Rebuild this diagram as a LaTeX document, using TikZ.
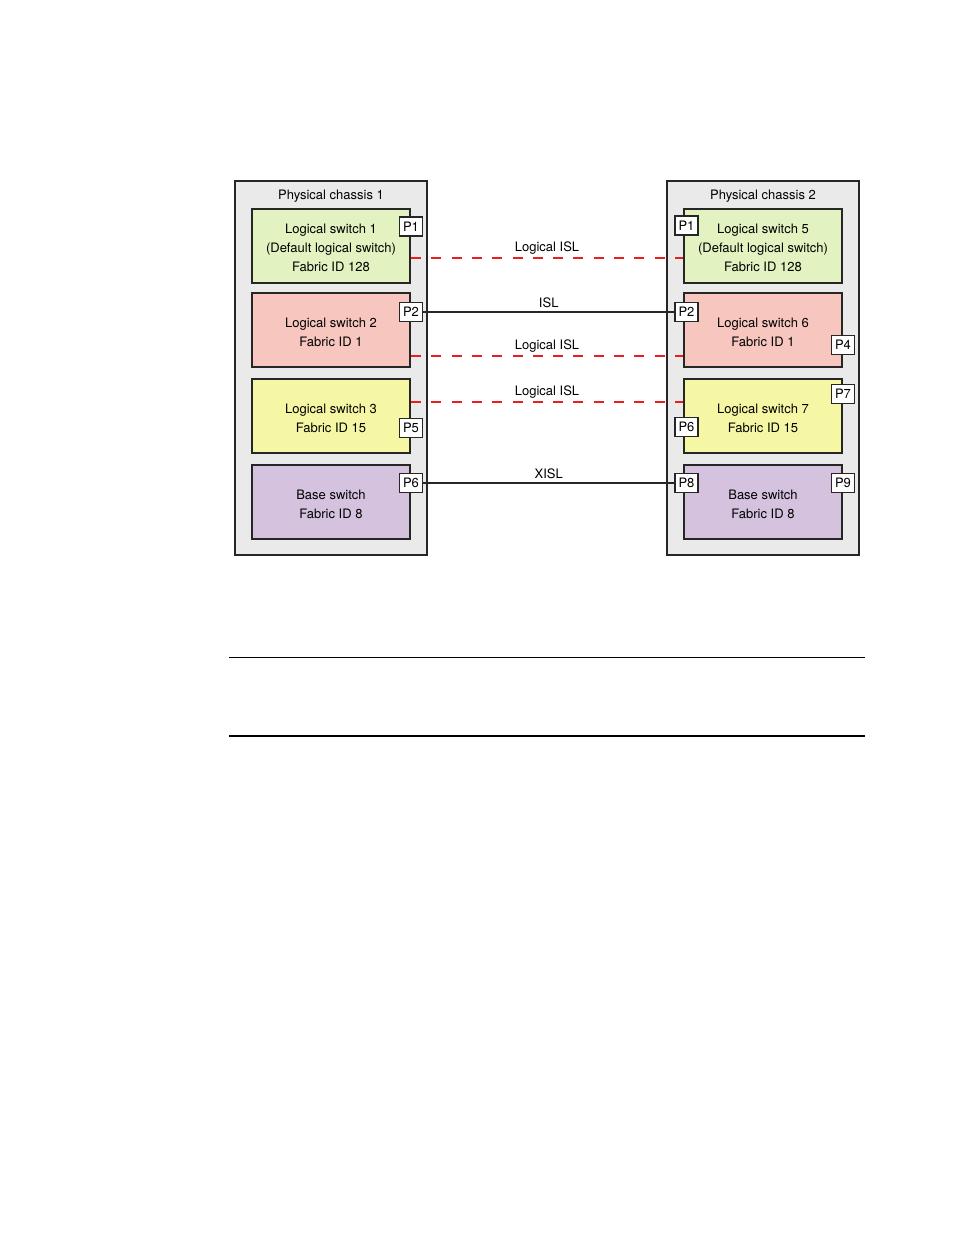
\documentclass[tikz,border=0pt]{standalone}
\usepackage{fontspec}
\setmainfont{TeX Gyre Heros}
\usepackage{tikz}
\usetikzlibrary{positioning}
\definecolor{chgray}{HTML}{EAEAEA}
\definecolor{swgreen}{HTML}{E2F2C1}
\definecolor{swpink}{HTML}{F6C6BF}
\definecolor{swyellow}{HTML}{F5F7A4}
\definecolor{swlilac}{HTML}{D4C2DF}
\definecolor{islred}{HTML}{EE1C1C}

\begin{document}
\begin{tikzpicture}[x=1pt,y=-1pt,
  every node/.style={font=\fontsize{13}{19}\selectfont},
  chassis/.style={draw=black!85, fill=chgray, line width=2pt, minimum width=192pt, minimum height=374pt, inner sep=0pt},
  swbox/.style={draw=black!85, line width=2pt, minimum width=158pt, minimum height=74pt, align=center, inner sep=0pt},
  port/.style={draw=black!85, fill=white, line width=1.5pt, minimum width=23pt, minimum height=19pt, inner sep=0pt},
  lisl/.style={islred, line width=2pt, dash pattern=on 10pt off 10.3pt},
  isl/.style={black!85, line width=1.8pt},
  lnklab/.style={above, inner sep=3pt, text=black}]
\useasboundingbox (0,0) rectangle (954,1235);
% the two chassis
\node[chassis] (ch1) at (331,368) {};
\node[chassis] (ch2) at (763,368) {};
\node (ttl1) at (331,196.5) {Physical chassis 1};
\node (ttl2) at (763,196.5) {Physical chassis 2};
% logical switches, left column 1-4, right column 5-8
\foreach \n/\xx/\yy/\col/\txt in {%
   1/331/245.5/swgreen/{Logical switch 1\\(Default logical switch)\\Fabric ID 128},
   2/331/330/swpink/{Logical switch 2\\Fabric ID 1},
   3/331/416/swyellow/{Logical switch 3\\Fabric ID 15},
   4/331/502/swlilac/{Base switch\\Fabric ID 8},
   5/763/245.5/swgreen/{Logical switch 5\\(Default logical switch)\\Fabric ID 128},
   6/763/330/swpink/{Logical switch 6\\Fabric ID 1},
   7/763/416/swyellow/{Logical switch 7\\Fabric ID 15},
   8/763/502/swlilac/{Base switch\\Fabric ID 8}}{
   \node[swbox, fill=\col] (ls\n) at (\xx,\yy) {\rule{0pt}{13.5pt}\txt};
}
% logical ISLs (dashed)
\draw[lisl] ([yshift=-12.5pt]ls1.east) -- node[lnklab]{Logical ISL} ([yshift=-12.5pt]ls5.west);
\draw[lisl] ([yshift=-26pt]ls2.east) -- node[lnklab]{Logical ISL} ([yshift=-26pt]ls6.west);
\draw[lisl] ([yshift=14pt]ls3.east) -- node[lnklab]{Logical ISL} ([yshift=14pt]ls7.west);
% ports
\foreach \nm/\sw/\an/\dx/\dy/\lab in {%
   p1L/ls1/north east/0/-19/P1, p2L/ls2/north east/0/-20/P2,
   p5L/ls3/north east/0/-50/P5, p6L/ls4/north east/0/-19/P6,
   p1R/ls5/north west/3.5/-18/P1, p2R/ls6/north west/3.5/-20/P2,
   p4R/ls6/north east/0/-53/P4, p7R/ls7/north east/0/-16/P7,
   p6R/ls7/north west/3.5/-49/P6, p8R/ls8/north west/3.5/-19/P8,
   p9R/ls8/north east/0/-19/P9}{
   \node[port] (\nm) at ([xshift=\dx pt,yshift=\dy pt]\sw.\an) {\lab};
}
% physical links
\draw[isl] (p2L.east) -- node[lnklab]{ISL} (p2R.west);
\draw[isl] (p6L.east) -- node[lnklab]{XISL} (p8R.west);
% rules below the figure
\draw[line width=1pt] (229,657) -- (865,657);
\draw[line width=2.2pt] (229,736) -- (865,736);
\end{tikzpicture}
\end{document}
